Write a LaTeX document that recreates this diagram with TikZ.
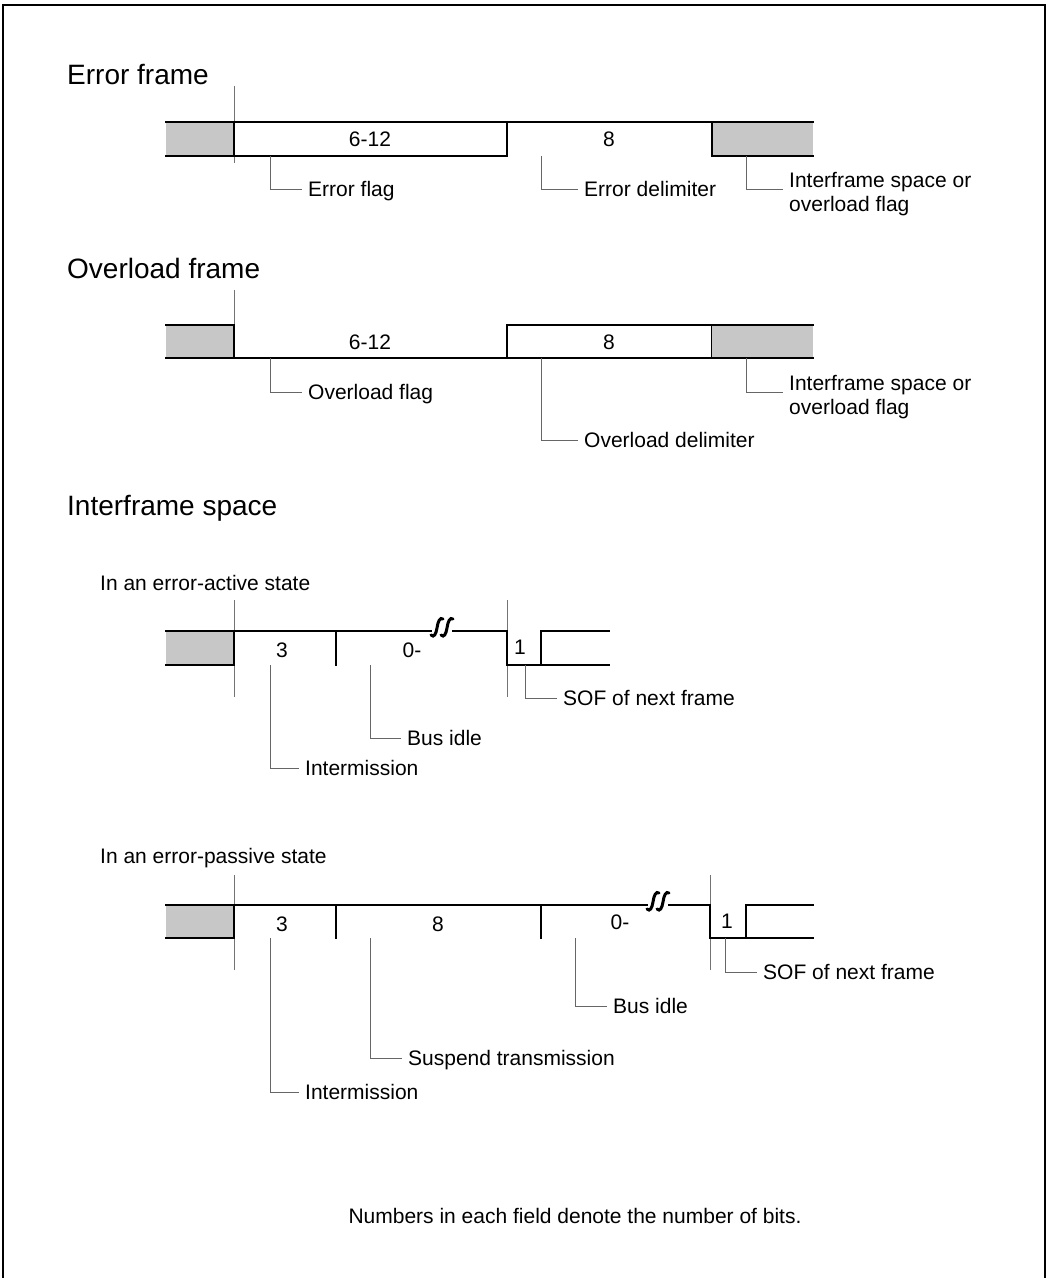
\documentclass[tikz,border=0pt]{standalone}
\usepackage{fontspec}
\setmainfont{Liberation Sans}
\usetikzlibrary{calc}
\begin{document}
\begin{tikzpicture}[x=1pt,y=-1pt,
  thk/.style={line width=2.4pt,black,line cap=rect},
  tick/.style={line width=0.8pt,black!55},
  leader/.style={line width=0.8pt,black!60},
  grey/.style={fill=black!22},
  title/.style={anchor=west,inner sep=0pt,font=\fontsize{28}{32}\selectfont,text height=20pt,text depth=0pt},
  sub/.style={anchor=west,inner sep=0pt,font=\fontsize{21}{24}\selectfont,text height=15pt,text depth=0pt},
  lbl/.style={anchor=west,inner sep=0pt,font=\fontsize{21}{24}\selectfont,text height=15pt,text depth=0pt},
  lbltwo/.style={anchor=north west,inner sep=0pt,align=left,font=\fontsize{21}{24}\selectfont},
  fld/.style={inner sep=0pt,font=\fontsize{21}{24}\selectfont,text height=15pt,text depth=0pt},
  brk/.style={line width=3pt,black,line cap=round}
]
\useasboundingbox (0,0) rectangle (1049,1278);
% outer frame
\draw[line width=1.5pt] (3,1278) -- (3,5) -- (1045,5) -- (1045,1278);

% ================= Error frame =================
\node[title] (t1) at (67,74) {Error frame};
\draw[tick] (234,86) -- (234,163);
\fill[grey] (166,122) rectangle (234,156);
\draw[thk] (166,122) -- (234,122) (166,156) -- (234,156);
\draw[thk] (234,122) rectangle (507,156);
\draw[thk] (507,122) -- (712,122);
\fill[grey] (712,122) rectangle (813,156);
\draw[thk] (813,122) -- (712,122) -- (712,156) -- (813,156);
\node[fld] (e1) at (370,139) {6-12};
\node[fld] (e2) at (609,139) {8};
\coordinate (e1c) at (270,156);
\coordinate (e2c) at (541,156);
\coordinate (e3c) at (746,156);
\node[lbl] (el1) at (308,189) {Error flag};
\node[lbl] (el2) at (584,189) {Error delimiter};
\node[lbltwo] (el3) at (789,172) {Interframe space or\\overload flag};
\draw[leader] (e1c) |- ([xshift=-6pt]el1.west);
\draw[leader] (e2c) |- ([xshift=-6pt]el2.west);
\draw[leader] (e3c) |- ($(el3.north west)+(-6,17)$);

% ================= Overload frame =================
\node[title] (t2) at (67,268) {Overload frame};
\draw[tick] (234,290) -- (234,357);
\fill[grey] (166,325) rectangle (234,358);
\draw[thk] (166,325) -- (234,325) -- (234,358) (166,358) -- (507,358);
\draw[thk] (507,325) rectangle (712,358);
\fill[grey] (712,325) rectangle (813,358);
\draw[thk] (813,325) -- (712,325) (712,358) -- (813,358);
\node[fld] (o1) at (370,342) {6-12};
\node[fld] (o2) at (609,342) {8};
\coordinate (o1c) at (270,358);
\coordinate (o2c) at (541,358);
\coordinate (o3c) at (746,358);
\node[lbl] (ol1) at (308,392) {Overload flag};
\node[lbl] (ol2) at (584,440) {Overload delimiter};
\node[lbltwo] (ol3) at (789,375) {Interframe space or\\overload flag};
\draw[leader] (o1c) |- ([xshift=-6pt]ol1.west);
\draw[leader] (o2c) |- ([xshift=-6pt]ol2.west);
\draw[leader] (o3c) |- ($(ol3.north west)+(-6,17)$);

% ================= Interframe space =================
\node[title] (t3) at (67,505) {Interframe space};

% ---- error-active
\node[sub] (s1) at (100,583) {In an error-active state};
\draw[tick] (234,600) -- (234,697);
\draw[tick] (507,600) -- (507,697);
\fill[grey] (166,631) rectangle (234,665);
\draw[thk] (166,631) -- (234,631) (166,665) -- (234,665);
\draw[thk] (234,665) -- (234,631) -- (431,631);
\draw[thk] (453,631) -- (507,631) -- (507,665) -- (541,665);
\draw[thk] (541,631) -- (541,665);
\draw[thk] (541,631) -- (609,631) (541,665) -- (609,665);
\draw[thk] (336,631) -- (336,665);
\draw[brk] (431,635) .. controls (434,638) and (436,634) .. (437,628) .. controls (438,621) and (440,617) .. (443,619);
\draw[brk] (441,635) .. controls (444,638) and (446,634) .. (447,628) .. controls (448,621) and (450,617) .. (453,619);
\node[fld] (a1) at (282,650) {3};
\node[fld] (a2) at (412,650) {0-};
\node[fld] (a3) at (520,647) {1};
\coordinate (a1c) at (270,665);
\coordinate (a2c) at (370,665);
\coordinate (a3c) at (525,665);
\node[lbl] (al1) at (305,768) {Intermission};
\node[lbl] (al2) at (407,738) {Bus idle};
\node[lbl] (al3) at (563,698) {SOF of next frame};
\draw[leader] (a1c) |- ([xshift=-6pt]al1.west);
\draw[leader] (a2c) |- ([xshift=-6pt]al2.west);
\draw[leader] (a3c) |- ([xshift=-6pt]al3.west);

% ---- error-passive
\node[sub] (s2) at (100,856) {In an error-passive state};
\draw[tick] (234,875) -- (234,970);
\draw[tick] (710,875) -- (710,970);
\fill[grey] (166,905) rectangle (234,938);
\draw[thk] (166,905) -- (234,905) (166,938) -- (234,938);
\draw[thk] (234,938) -- (234,905) -- (647,905);
\draw[thk] (669,905) -- (710,905) -- (710,938) -- (746,938);
\draw[thk] (746,905) -- (746,938);
\draw[thk] (746,905) -- (813,905) (746,938) -- (813,938);
\draw[thk] (336,905) -- (336,938);
\draw[thk] (541,905) -- (541,938);
\draw[brk] (647,909) .. controls (650,912) and (652,908) .. (653,902) .. controls (654,895) and (656,891) .. (659,893);
\draw[brk] (657,909) .. controls (660,912) and (662,908) .. (663,902) .. controls (664,895) and (666,891) .. (669,893);
\node[fld] (p1) at (282,924) {3};
\node[fld] (p2) at (438,924) {8};
\node[fld] (p3) at (620,922) {0-};
\node[fld] (p4) at (727,921) {1};
\coordinate (p1c) at (270,938);
\coordinate (p2c) at (370,938);
\coordinate (p3c) at (575,938);
\coordinate (p4c) at (725,938);
\node[lbl] (pl1) at (305,1092) {Intermission};
\node[lbl] (pl2) at (408,1058) {Suspend transmission};
\node[lbl] (pl3) at (613,1006) {Bus idle};
\node[lbl] (pl4) at (763,972) {SOF of next frame};
\draw[leader] (p1c) |- ([xshift=-6pt]pl1.west);
\draw[leader] (p2c) |- ([xshift=-6pt]pl2.west);
\draw[leader] (p3c) |- ([xshift=-6pt]pl3.west);
\draw[leader] (p4c) |- ([xshift=-6pt]pl4.west);

% footer
\node[fld] (foot) at (575,1216) {Numbers in each field denote the number of bits.};
\end{tikzpicture}
\end{document}
